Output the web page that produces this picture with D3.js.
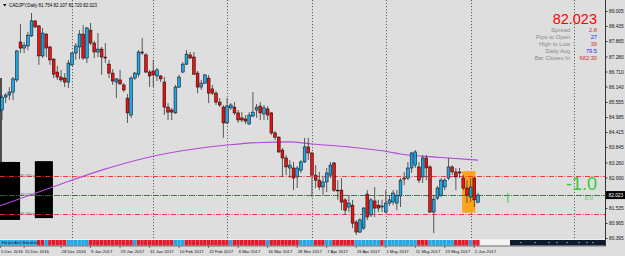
<!DOCTYPE html>
<html><head><meta charset="utf-8">
<script src="https://cdn.jsdelivr.net/npm/d3@7"></script>
<style>html,body{margin:0;padding:0;background:#dedede;overflow:hidden}</style>
</head><body><svg id="c" width="625" height="256"></svg>
<script>
const symbolTitle = "CADJPY,Daily  81.754 82.107 81.720 82.023";
const opens = [85.25,85.74,85.82,85.93,86.39,87.83,87.60,87.68,88.06,88.63,
88.44,87.30,88.13,87.64,87.18,86.69,86.50,86.46,86.31,86.96,
87.41,87.64,88.13,87.22,88.28,87.79,87.45,87.56,87.26,86.99,
86.65,86.31,86.39,86.20,85.70,85.06,86.46,86.61,87.45,87.34,
86.69,86.73,86.54,86.54,86.31,85.36,85.25,85.14,86.12,86.69,
86.99,87.34,87.26,86.65,86.12,86.27,86.46,86.05,85.89,85.55,
85.36,84.76,85.33,85.36,85.14,84.95,84.91,84.72,85.02,85.25,
85.40,85.10,85.29,85.14,84.38,84.22,83.73,83.43,83.05,83.05,
82.71,82.97,83.28,83.85,83.62,82.78,82.59,82.33,82.52,82.78,
83.24,82.21,82.21,81.84,81.57,81.64,81.00,80.62,80.77,82.06,
81.27,81.80,81.64,81.57,81.38,81.72,81.76,81.72,81.99,82.67,
82.67,83.05,83.16,83.09,82.71,83.43,83.09,81.38,81.91,82.02,
82.33,82.67,83.09,82.90,82.90,82.67,82.29,81.95,82.67,81.754];
const highs = [85.82,85.89,86.12,86.50,87.52,88.51,87.83,88.21,88.93,88.66,
88.47,88.36,88.17,87.68,87.22,86.92,86.77,86.65,87.15,87.45,
87.79,88.28,88.47,88.40,88.55,87.87,88.17,87.64,87.79,87.15,
86.80,86.46,86.77,86.27,85.86,86.54,86.69,87.52,87.98,87.41,
86.77,87.15,86.84,86.58,86.50,85.51,85.33,86.20,86.58,87.07,
87.52,87.45,87.45,86.73,86.39,86.61,86.58,86.20,85.97,85.70,
85.44,85.70,85.51,85.55,85.25,85.17,85.06,85.17,85.93,85.48,
85.55,85.44,85.40,85.17,84.45,84.26,83.81,83.54,83.35,83.28,
83.12,83.35,84.19,84.19,83.66,83.16,82.90,82.75,83.05,83.28,
83.28,82.59,82.67,81.91,82.02,81.84,81.08,81.15,81.57,82.21,
81.91,82.33,81.84,81.84,82.21,82.02,82.21,82.21,82.67,82.90,
83.28,83.66,83.73,83.28,83.54,83.54,83.16,82.02,82.37,82.67,
82.67,83.43,83.16,83.05,83.05,82.78,82.59,82.67,82.71,82.107];
const lows = [84.87,85.51,85.63,85.63,86.31,87.41,87.41,87.52,88.02,88.36,
86.96,87.22,87.26,86.96,86.46,86.39,86.31,86.12,86.08,86.92,
87.15,87.18,87.15,87.03,87.71,87.22,87.26,86.58,87.03,86.46,
86.20,85.70,86.20,85.93,84.76,84.95,86.39,86.50,87.34,86.65,
86.12,86.12,86.35,86.31,85.06,84.87,84.87,85.10,86.08,86.65,
86.96,87.18,86.58,85.89,86.01,86.24,85.51,85.82,85.44,85.36,
84.19,84.72,85.25,85.06,84.76,84.79,84.72,84.68,84.98,84.95,
84.87,84.87,84.87,84.30,84.11,83.62,82.71,82.78,82.67,82.21,
82.29,82.86,83.24,83.35,81.95,82.29,82.21,82.02,82.14,82.67,
82.14,81.84,81.45,81.27,81.38,80.77,80.51,80.58,80.70,81.08,
81.19,81.19,81.38,81.38,81.34,81.61,81.64,81.45,81.57,82.40,
82.59,82.86,83.05,82.48,82.48,82.59,81.34,80.58,81.84,81.95,
82.21,82.59,82.78,82.21,82.67,82.21,81.72,81.76,81.57,81.720];
const closes = [85.74,85.82,85.93,86.43,87.49,87.60,87.71,88.09,88.63,88.40,
87.30,88.17,87.60,87.15,86.61,86.50,86.39,86.31,87.03,87.41,
87.68,88.13,87.22,88.36,87.79,87.45,87.56,87.26,87.22,86.65,
86.35,86.43,86.24,86.01,85.14,86.46,86.65,87.45,87.41,86.69,
86.54,86.58,86.77,86.43,85.36,85.17,85.17,86.12,86.50,86.99,
87.37,87.22,86.61,86.12,86.27,86.58,85.89,85.89,85.55,85.44,
84.76,85.40,85.44,85.14,84.87,84.87,84.83,85.06,85.17,85.36,
85.14,85.33,85.06,84.38,84.22,83.66,83.43,83.09,83.16,82.67,
83.05,83.28,83.85,83.62,82.78,82.59,82.33,82.52,82.86,83.16,
82.21,82.18,81.76,81.45,81.72,80.96,80.62,81.08,81.53,81.19,
81.84,81.53,81.53,81.61,81.72,81.84,82.10,82.02,82.59,82.63,
83.05,83.62,83.66,82.59,83.43,83.05,81.38,81.87,82.29,82.59,
82.59,83.09,82.90,82.71,82.86,82.29,82.02,82.33,81.84,82.023];
const maBars = [-0.5,13,27,40,54,61,70,78,84,94,105,108,119,129];
const maValues = [81.62,82.29,82.97,83.47,83.81,83.92,84.02,84.04,83.96,83.85,83.66,83.58,83.45,83.35];
const priceTicks = [89.005,88.435,87.865,87.280,86.710,86.140,85.555,84.985,84.415,83.845,83.260,82.690,81.535,80.965,80.395];
const dateLabels = ["5 Dec 2016","15 Dec 2016","28 Dec 2016","9 Jan 2017","19 Jan 2017","31 Jan 2017","10 Feb 2017","22 Feb 2017","6 Mar 2017","16 Mar 2017","28 Mar 2017","7 Apr 2017","19 Apr 2017","1 May 2017","11 May 2017","23 May 2017","2 Jun 2017"];
const dateLabelBars = [-0.5,6,16,24,32,40,48,56,64,72,80,88,96,104,112,120,128];
const monthGridBars = [19,41,61,84,104,127,155];
const stripRuns = [[10,1],[2,0],[1,1],[5,0],[6,1],[12,0],[1,1],[10,0],[3,1],[12,0],[1,1],[9,0],[1,1],[8,0],[4,1],[3,0],[2,1],[6,0],[7,1],[1,0],[9,1],[3,0],[7,1],[4,0],[1,1],[2,0]];
const currentPrice = 82.023;
const levelLines = [82.75, 81.30];
const levelLabels = ["82.745 sl", "82.023 op", "81.305 tp"];
const orangeZone = {bars:[124.7,128.3], prices:[82.93,81.36]};
const blackBoxes = [{bars:[-0.6,4.9], prices:[83.28,81.08]},{bars:[8.9,13.8], prices:[83.31,81.15]}];
const infoLabels = ["Spread","Pips to Open","High to Low","Daily Avg","Bar Closes In"];
const infoValues = ["2.8","27","39","79.5","682:30"];
const infoColors = ["#c83232","#1f1fff","#c83232","#1f1fff","#c83232"];
const signalText = "-1.0", signalSub = "0.0";
const signalMark = {bar:137.1, prices:[82.10,81.72]};

const svg = d3.select("#c");
const W = 625, H = 256, plotR = 605.5;
const x = d3.scaleLinear().domain([0,129]).range([2,478]);
const y = d3.scaleLinear().domain([80.395,89.005]).range([238,11]);
const font = "'Liberation Sans', Arial, sans-serif";
const BLUE = "#1fa6e6", RED = "#ee1111";

svg.append("rect").attr("width",W).attr("height",H).attr("fill","#dedede");

// month grid
svg.append("g").selectAll("line").data(monthGridBars).join("line")
  .attr("x1",d=>Math.round(x(d))+0.5).attr("x2",d=>Math.round(x(d))+0.5)
  .attr("y1",0).attr("y2",239).attr("stroke","#444").attr("stroke-width",0.8).attr("stroke-dasharray","1.2,1.8");

// black boxes
blackBoxes.forEach(b=>{
  svg.append("rect").attr("x",Math.max(0,x(b.bars[0]))).attr("y",y(b.prices[0]))
    .attr("width",x(b.bars[1])-Math.max(0,x(b.bars[0]))).attr("height",y(b.prices[1])-y(b.prices[0])).attr("fill","#000");
});
svg.append("line").attr("x1",1).attr("x2",1).attr("y1",y(86.46)).attr("y2",y(83.28)).attr("stroke","#000").attr("stroke-width",1.3);

// orange zone
svg.append("rect").attr("x",x(orangeZone.bars[0])).attr("y",y(orangeZone.prices[0]))
  .attr("width",x(orangeZone.bars[1])-x(orangeZone.bars[0])).attr("height",y(orangeZone.prices[1])-y(orangeZone.prices[0]))
  .attr("fill","#ffa41a");

// level lines
levelLines.forEach(v=>{
  svg.append("line").attr("x1",0).attr("x2",plotR).attr("y1",Math.round(y(v))+0.5).attr("y2",Math.round(y(v))+0.5)
    .attr("stroke","#ee2a2a").attr("stroke-width",0.9).attr("stroke-dasharray","5,1.5,1,1.5");
});
svg.append("line").attr("x1",0).attr("x2",plotR).attr("y1",Math.round(y(currentPrice))+0.5).attr("y2",Math.round(y(currentPrice))+0.5)
  .attr("stroke","#2c6e3e").attr("stroke-width",0.9).attr("stroke-dasharray","6,1,1,1");
[levelLines[0],currentPrice,levelLines[1]].forEach((v,i)=>{
  svg.append("text").attr("x",20.5).attr("y",y(v)+1.3).attr("font-family",font).attr("font-size",3.6)
    .attr("fill","#555").text(levelLabels[i]);
});

// MA
const ma = maBars.map((b,i)=>[b,maValues[i]]);
svg.append("path").datum(ma).attr("fill","none").attr("stroke","#b44ad8").attr("stroke-width",1.1)
  .attr("d",d3.line().x(d=>Math.max(0,x(d[0]))).y(d=>y(d[1])).curve(d3.curveMonotoneX));

// candles
const idx = d3.range(opens.length);
const cg = svg.append("g");
cg.selectAll("line").data(idx).join("line")
  .attr("x1",i=>x(i)).attr("x2",i=>x(i)).attr("y1",i=>y(highs[i])).attr("y2",i=>y(lows[i]))
  .attr("stroke","#4a4a4a").attr("stroke-width",0.9);
cg.selectAll("rect").data(idx).join("rect")
  .attr("x",i=>x(i)-1.4).attr("width",2.8)
  .attr("y",i=>y(Math.max(opens[i],closes[i])))
  .attr("height",i=>Math.max(0.6,Math.abs(y(opens[i])-y(closes[i]))))
  .attr("fill",i=>closes[i]>=opens[i]?BLUE:RED).attr("stroke","#000").attr("stroke-width",0.5);

// signal mark and text
svg.append("line").attr("x1",x(signalMark.bar)).attr("x2",x(signalMark.bar))
  .attr("y1",y(signalMark.prices[0])).attr("y2",y(signalMark.prices[1])).attr("stroke","#3cc83c").attr("stroke-width",1);
svg.append("text").attr("x",597).attr("y",190).attr("text-anchor","end").attr("font-family",font)
  .attr("font-size",18).attr("fill","#33cc33").text(signalText);
svg.append("text").attr("x",593).attr("y",200).attr("text-anchor","end").attr("font-family",font)
  .attr("font-size",6).attr("fill","#55cc55").text(signalSub);

// info panel
svg.append("text").attr("x",597).attr("y",23.5).attr("text-anchor","end").attr("font-family",font)
  .attr("font-size",14.5).attr("fill","#ff0000").text(currentPrice.toFixed(3));
const rowY = [32,38.8,45.6,52.6,59.6];
infoLabels.forEach((t,i)=>{
  svg.append("text").attr("x",570).attr("y",rowY[i]).attr("text-anchor","end").attr("font-family",font)
    .attr("font-size",5.9).attr("fill","#8a8a8a").text(t);
  svg.append("text").attr("x",597).attr("y",rowY[i]).attr("text-anchor","end").attr("font-family",font)
    .attr("font-size",5.7).attr("fill",infoColors[i]).text(infoValues[i]);
});

// title
svg.append("path").attr("d","M3,4 L6.5,4 L4.75,6.5 Z").attr("fill","#000");
svg.append("text").attr("x",9).attr("y",7).attr("font-family",font).attr("font-size",4.5)
  .attr("textLength",88).attr("lengthAdjust","spacingAndGlyphs").attr("fill","#000").text(symbolTitle);

// bottom strip
let pos = 0;
const stripData = [];
stripRuns.forEach(([n,up])=>{ for(let k=0;k<n;k++){ stripData.push([pos,up]); pos++; } });
svg.append("rect").attr("x",0).attr("y",239).attr("width",plotR).attr("height",0.8).attr("fill","#f2f2f2");
svg.append("g").selectAll("rect").data(stripData).join("rect")
  .attr("x",d=>Math.max(0,x(d[0])-1.85)).attr("y",240).attr("width",3.4).attr("height",5.5)
  .attr("fill",d=>d[1]?"#22a8e6":"#e5192b");
svg.append("rect").attr("x",x(129)+1.9).attr("y",240).attr("width",510-(x(129)+1.9)).attr("height",5.5).attr("fill","#f3f3f3");
svg.append("rect").attr("x",510).attr("y",240).attr("width",plotR-510).attr("height",5.5).attr("fill","#0c1c2c");
[520,534,548,556,566,578,586,592].forEach(px=>{
  svg.append("rect").attr("x",px).attr("y",242.3).attr("width",2).attr("height",0.8).attr("fill","#9ab");
});
svg.append("text").attr("x",2).attr("y",244.3).attr("font-family",font).attr("font-size",3.6).attr("fill","#102030").text("Heiken Ashi Smoothed");
svg.append("line").attr("x1",0).attr("x2",plotR).attr("y1",246).attr("y2",246).attr("stroke","#555").attr("stroke-width",0.8);

// right axis
svg.append("line").attr("x1",plotR).attr("x2",plotR).attr("y1",0).attr("y2",246).attr("stroke","#333").attr("stroke-width",1);
const yAxis = d3.axisRight(y).tickValues(priceTicks).tickFormat(d=>d.toFixed(3)).tickSize(2).tickPadding(1.5);
const ga = svg.append("g").attr("transform",`translate(${plotR},0)`).call(yAxis);
ga.select(".domain").remove();
ga.selectAll("line").attr("stroke","#333");
ga.selectAll("text").attr("font-family",font).attr("font-size",4.8).attr("fill","#111");

// current price box
svg.append("rect").attr("x",606).attr("y",y(currentPrice)-4).attr("width",19).attr("height",8).attr("fill","#000");
svg.append("text").attr("x",608.5).attr("y",y(currentPrice)+1.7).attr("font-family",font).attr("font-size",4.8)
  .attr("fill","#fff").text(currentPrice.toFixed(3));

// date axis
const gd = svg.append("g");
dateLabels.forEach((t,i)=>{
  const px = Math.max(0.5,x(dateLabelBars[i]));
  gd.append("line").attr("x1",px).attr("x2",px).attr("y1",246).attr("y2",248).attr("stroke","#333").attr("stroke-width",0.6);
  gd.append("text").attr("x",px+0.5).attr("y",252.5).attr("font-family",font).attr("font-size",4.3).attr("fill","#111").text(t);
});
</script></body></html>
